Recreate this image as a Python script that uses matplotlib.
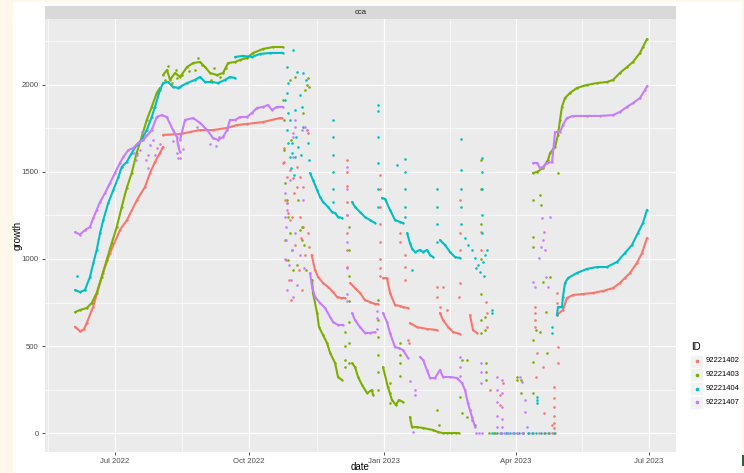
import numpy as np
import matplotlib.pyplot as plt
from matplotlib.patches import Rectangle

plt.rcParams['font.family'] = ['Liberation Sans', 'DejaVu Sans']

ids = ['92221402', '92221403', '92221404', '92221407']
colors = ['#F8766D', '#7CAE00', '#00BFC4', '#C77CFF']

# x = days since 2022-06-01, y = growth
tick_days = [30, 122, 214, 304, 395]
tick_labels = ['Jul 2022', 'Oct 2022', 'Jan 2023', 'Apr 2023', 'Jul 2023']
minor_days = [-15.5, 76, 168, 259, 349.5]
y_ticks = [0, 500, 1000, 1500, 2000]
y_minor = [250, 750, 1250, 1750, 2250]

# ---- 92221402 (red) ----
red_rise = [(3, 611), (6.4, 585), (9, 595), (11, 632), (15.3, 724), (22.1, 920), (26.9, 1034),
            (33.7, 1167), (38.5, 1224), (45.3, 1339), (50.8, 1414), (54.2, 1494), (57.6, 1557),
            (61, 1609), (63.1, 1644)]
red_flat = [(63.1, 1713), (74.7, 1718), (88.4, 1741), (97.2, 1741), (106.8, 1753), (113.6, 1770),
            (120.4, 1776), (131.4, 1787), (143, 1810), (144.4, 1810)]
red_dec1 = [(164.6, 1023), (166.9, 937), (169.0, 897), (172.4, 862), (175.8, 839), (179.2, 810),
            (181.9, 782), (184.6, 776), (187.4, 776)]
red_dec2 = [(190.8, 862), (194.2, 833), (197.6, 805), (201.0, 764), (204.4, 753), (207.8, 741), (209.9, 741)]
red_dec3 = [(213.3, 891), (216.0, 891), (218.1, 805), (221.5, 736), (224.9, 730), (227.0, 724), (230.4, 718)]
red_dec4 = [(231.7, 632), (236.5, 609), (243.3, 598), (250.2, 592)]
red_dec5 = [(252.2, 690), (254.3, 649), (257.8, 609), (261.2, 580), (265.9, 569)]
red_dec6 = [(272.7, 678), (274.8, 592), (277.5, 575)]
red_late = [(332.1, 678), (336.2, 707), (338.9, 776), (343.0, 793), (349.9, 799), (356.7, 805),
            (363.5, 816), (370.4, 833), (375.1, 862), (378.5, 891), (382.0, 920), (386.7, 977),
            (390.2, 1034), (393.6, 1121)]
red_pts = [(145.0, 1552), (145.7, 1557), (147.8, 1471), (146.4, 1339), (148.5, 1264), (149.8, 1224),
           (151.9, 1465), (154.6, 1414), (156.7, 1241), (158.7, 1184), (162.1, 1149), (162.8, 1069),
           (149.8, 1511), (154.6, 1529), (156.7, 1471), (158.7, 1414), (147.8, 1322), (151.2, 1241),
           (161.4, 1741), (162.1, 1724), (147.1, 994), (149.1, 879), (150.5, 764), (153.2, 1080),
           (155.9, 937), (158.0, 822), (160.1, 1023), (146, 1640), (152.5, 1380), (157.5, 1120),
           (188.7, 1569), (188.7, 1500), (188.7, 1420), (188.7, 1330), (188.7, 1250), (188.7, 1150),
           (188.7, 1050), (188.7, 954),
           (211.3, 1480), (211.3, 1400), (211.3, 1300), (211.3, 1200), (211.3, 1100), (211.3, 1000),
           (211.3, 950), (211.3, 900),
           (224.9, 1149), (224.9, 1098), (228.4, 1023), (228.4, 954), (228.4, 879), (230.4, 534), (231.0, 517),
           (250.2, 839), (250.2, 782), (252.2, 724), (254.3, 839), (257.1, 707),
           (266.0, 1339), (266.0, 1149), (266.0, 1052), (266.0, 862), (265.0, 782),
           (280.3, 1155), (280.3, 1052), (283.7, 753), (284.4, 690), (284.4, 609),
           (286.4, 247), (293.2, 218), (293.2, 161), (295.3, 287),
           (317.2, 724), (317.2, 690), (317.2, 650), (317.2, 609), (318.5, 460), (317.8, 322),
           (322.6, 379), (323.3, 115),
           (330.1, 264), (330.1, 200), (330.1, 150), (330.1, 100), (330.1, 60), (330.1, 30),
           (332.1, 805), (332.1, 750), (332.8, 494), (332.8, 402), (328.8, 46),
           (290, 0), (294, 0), (298, 0), (302, 0), (305, 0), (309, 0), (313, 0), (316, 0),
           (320, 0), (323, 0), (326, 0), (329, 0), (331, 0)]

# ---- 92221403 (green) ----
green_rise = [(3.0, 695), (6.4, 707), (11.0, 718), (14.4, 747), (17.8, 805), (21.2, 897), (24.6, 994),
              (28.1, 1092), (31.5, 1184), (34.9, 1299), (38.3, 1408), (41.7, 1494), (45.1, 1609),
              (48.5, 1701), (52.0, 1799), (55.4, 1874), (58.8, 1954), (61.0, 1983)]
green_plat = [(63.1, 2057), (65.8, 2086), (67.9, 2029), (71.3, 2069), (74.7, 2046), (79.5, 2103),
              (83.6, 2126), (88.4, 2132), (91.8, 2103), (95.2, 2069), (100.0, 2057), (104.1, 2069),
              (107.5, 2126), (112.3, 2132), (115.7, 2144), (120.4, 2155), (124.6, 2184), (131.4, 2207),
              (138.2, 2218), (145.0, 2218)]
green_dec1 = [(164.9, 879), (165.5, 805), (168.3, 690), (169.6, 609), (172.4, 563), (175.1, 517),
              (177.2, 460), (180.6, 402), (182.6, 322), (185.3, 305)]
green_dec2 = [(192.2, 402), (194.2, 379), (196.3, 322), (199.0, 276), (202.4, 230), (205.8, 247), (206.5, 218)]
green_dec3 = [(213.3, 379), (216.7, 264), (219.4, 190), (222.1, 161), (224.2, 190), (227.0, 178)]
green_dec4 = [(231.7, 92), (233.1, 34), (236.5, 34), (240.7, 29), (247.5, 17), (250.9, 6), (254, 0),
              (257, 0), (260, 0), (263, 0), (265, 0)]
green_late = [(315.8, 1494), (318.5, 1500), (322.6, 1523), (326.0, 1569), (327.4, 1609), (330.8, 1644),
              (332.8, 1713), (334.2, 1799), (335.5, 1874), (337.6, 1925), (341.0, 1954), (345.8, 1983),
              (352.6, 2000), (359.5, 2011), (366.3, 2017), (370.4, 2029), (375.1, 2069), (379.9, 2103),
              (384.0, 2132), (388.8, 2184), (390.8, 2218), (393.6, 2264)]
green_pts = [(64.5, 2029), (66.5, 2109), (69, 2011), (72.6, 2040), (72, 2086), (84.9, 2086), (87, 2155),
             (95.9, 2029), (97.9, 2098), (76, 2060), (81, 2080), (90, 2115), (102, 2045), (106, 2100),
             (145.0, 1914), (149.8, 2029), (153.2, 2046), (161.4, 2000), (160.1, 1971), (145.7, 1626),
             (146.4, 1437), (147.8, 1339), (148.5, 1241), (149.8, 1149), (151.2, 1052), (151.9, 937),
             (158.0, 1184), (158.0, 1109), (158.7, 1839), (146.4, 1109), (148.5, 994), (155.3, 1339),
             (156.7, 1167), (159.4, 1080), (154.6, 965), (160.8, 937), (145.7, 1799), (150.5, 1684),
             (162, 2040), (163, 1990),
             (187.4, 580), (187.4, 500), (187.4, 420), (187.4, 380),
             (190.1, 1184), (190.1, 1050), (190.1, 900), (190.1, 760), (190.1, 640), (190.1, 520), (190.1, 400),
             (209.9, 764), (209.9, 650), (209.9, 550), (209.9, 450), (209.9, 350), (209.9, 250),
             (224.9, 517), (224.9, 450), (224.9, 400), (224.9, 330), (218, 287), (218, 230), (218, 172),
             (265.9, 207), (267.3, 115), (267.3, 420), (270.7, 92), (270.7, 420), (272.7, 132),
             (274.1, 75), (276.2, 46), (250.2, 132), (251.5, 46),
             (280.3, 1569), (280.3, 1400), (280.3, 1200), (280.3, 1000), (280.3, 800), (280.3, 650),
             (280.3, 575), (283.0, 667), (283.0, 592), (283.7, 402), (283.7, 350), (283.7, 305),
             (286, 0), (289, 0), (305, 322), (305, 305), (307.6, 230), (307.6, 305),
             (315.8, 534), (315.8, 408), (315.8, 230), (315.8, 1126), (315.8, 1069), (315.8, 1339),
             (320.5, 1368), (320.5, 580), (321.3, 1310), (325.3, 460), (324.6, 695), (327.4, 897),
             (322.6, 868), (332.8, 1494), (318, 592)]

# ---- 92221404 (cyan) ----
cyan_rise = [(3.0, 822), (6.4, 810), (9.8, 822), (13.2, 897), (15.5, 977), (17.8, 1052), (20.1, 1149),
             (22.3, 1224), (25.7, 1322), (29.2, 1397), (32.6, 1471), (34.9, 1529), (38.3, 1557),
             (41.7, 1609), (45.1, 1655), (48.5, 1684), (52.0, 1741), (55.4, 1816), (57.6, 1874),
             (61.0, 1971), (63.1, 2011), (66.5, 2017), (69.9, 1989), (73.3, 1983), (74.7, 1989),
             (79.5, 2011), (84.9, 2029), (88.4, 2046), (91.8, 2017), (96.6, 2017), (100.6, 2011),
             (105.4, 2029), (108.8, 2046), (112.3, 2040)]
cyan_top = [(112.3, 2161), (117.7, 2167), (123.8, 2161), (129.3, 2178), (136.1, 2184), (145.0, 2184)]
cyan_dec1 = [(163.5, 1494), (165.5, 1454), (168.3, 1397), (170.3, 1356), (172.4, 1328), (175.8, 1299),
             (178.5, 1270), (180.6, 1264), (182.6, 1241), (185.3, 1236)]
cyan_dec2 = [(192.2, 1328), (194.2, 1299), (197.6, 1270), (201.0, 1241), (204.4, 1224), (207.8, 1207)]
cyan_dec3 = [(212.6, 1351), (214.7, 1345), (218.1, 1282), (221.5, 1224), (224.9, 1213), (227.0, 1207)]
cyan_dec4 = [(229.8, 1149), (231.7, 1092), (233.1, 1060), (235.3, 1040), (238.6, 1052), (240.7, 1040),
             (243.3, 1052), (245.4, 1023), (247.5, 1011)]
cyan_dec5 = [(252.2, 1109), (255.7, 1080), (259.1, 1040), (262.5, 1011), (265.9, 1006)]
cyan_late = [(332.1, 678), (332.8, 724), (335.5, 724), (336.2, 782), (337.6, 862), (339.7, 891),
             (345.8, 920), (352.6, 943), (359.5, 954), (366.3, 954), (373.1, 983), (378.5, 1034),
             (383.3, 1080), (387.4, 1149), (390.8, 1207), (393.6, 1282)]
cyan_pts = [(4.2, 902),
            (147.8, 2103), (151.9, 2201), (154.6, 2075), (148.5, 2011), (147.8, 1954), (149.8, 1799),
            (147.8, 1741), (148.5, 1667), (151.2, 1609), (153.2, 1586), (155.3, 1644), (158.7, 2069),
            (160.8, 2029), (148.5, 1839), (151.2, 1667), (149.8, 1586), (158.0, 1874), (158.7, 1759),
            (162.1, 1667), (162.8, 1569), (146.4, 1914), (156.7, 1943), (153.2, 1856), (150.5, 1520),
            (152.5, 1480), (154, 1700), (157, 1600),
            (179.2, 1799), (179.2, 1700), (179.2, 1600), (179.2, 1500), (179.2, 1400), (179.2, 1330),
            (209.9, 1885), (209.9, 1850), (209.9, 1700), (209.9, 1550), (209.9, 1400), (209.9, 1300),
            (223.1, 1540), (228.4, 1575), (228.4, 1500), (228.4, 1400), (228.4, 1300), (228.4, 1240),
            (233.1, 937), (250.2, 1400), (250.2, 1300), (250.2, 1200), (250.2, 1100),
            (266.6, 1690), (266.6, 1511), (266.6, 1400), (266.6, 1300), (266.6, 1200),
            (269.3, 1121), (271.3, 1080), (274.1, 1052), (276.2, 1006), (278.2, 965), (279.6, 925),
            (281.6, 983), (283.0, 1023), (284.4, 1052), (277, 950), (282, 900),
            (280.9, 1580), (280.9, 1500), (280.9, 1400), (280.9, 1250), (280.9, 1150),
            (287.7, 690), (287.7, 707), (318.5, 207), (318.5, 172), (318.5, 190), (328.8, 609), (328.8, 575),
            (288, 0), (291, 0), (294, 0), (297, 0), (300, 0), (303, 0), (306, 0), (309, 0),
            (312, 0), (315, 0), (318, 0), (321, 0), (324, 0), (327, 0), (330, 0)]

# ---- 92221407 (purple) ----
purple_rise = [(3.0, 1155), (6.4, 1140), (9.8, 1167), (13.2, 1184), (15.5, 1236), (17.8, 1282),
               (20.1, 1328), (23.5, 1379), (26.9, 1437), (30.3, 1494), (33.7, 1552), (36.0, 1586),
               (39.4, 1626), (42.8, 1638), (46.2, 1667), (49.6, 1684), (55.4, 1741), (58.8, 1816),
               (62.2, 1827), (65.6, 1816), (69.9, 1741), (72.6, 1701), (73.3, 1655), (74.7, 1615)]
purple_plat = [(74.7, 1684), (78.1, 1799), (83.6, 1810), (88.4, 1782), (93.2, 1741), (97.2, 1695),
               (100.6, 1684), (104.1, 1701), (106.8, 1741), (108.8, 1799), (112.3, 1799), (115.7, 1816),
               (120.4, 1816), (123.8, 1839), (127.3, 1868), (131.4, 1874), (134.8, 1885), (137.5, 1856),
               (140.9, 1874), (145.0, 1874)]
purple_dec1 = [(163.5, 920), (164.9, 839), (166.9, 782), (170.3, 747), (173.8, 718), (177.2, 667),
               (179.2, 638), (182.6, 621), (186.0, 621)]
purple_dec2 = [(192.2, 690), (194.2, 649), (197.6, 609), (201.0, 575), (204.4, 575), (207.8, 580)]
purple_dec3 = [(213.3, 690), (216.0, 638), (218.1, 575), (221.5, 494), (224.2, 488), (227.0, 477), (230.4, 431)]
purple_dec4 = [(238.6, 437), (240.7, 420), (243.3, 362), (245.4, 316), (248.8, 316), (252.2, 362),
               (254.3, 322), (259.1, 322), (263.8, 316), (267.3, 287), (269.3, 247), (271.3, 172),
               (274.1, 92), (276.2, 34)]
purple_late = [(315.8, 1552), (318.5, 1552), (320.5, 1523), (322.6, 1529), (325.3, 1552), (328.8, 1557),
               (330.8, 1730), (334.2, 1730), (336.2, 1770), (338.9, 1810), (343.0, 1822), (352.6, 1822),
               (361.5, 1822), (370.4, 1827), (375.1, 1845), (379.9, 1874), (384.0, 1896), (388.8, 1925),
               (392.2, 1971), (393.6, 1994)]
purple_pts = [(47.4, 1626), (50.8, 1713), (52.9, 1598), (54.2, 1655), (56.3, 1684), (57.6, 1598),
              (59.0, 1638), (48.5, 1730), (51.5, 1569), (44.4, 1569), (45, 1600), (53, 1520), (43, 1610),
              (61, 1660), (70, 1680), (75, 1580), (77, 1630), (86, 1760), (95, 1660), (99, 1650),
              (101, 1700), (72.6, 1609), (73.3, 1580),
              (153.2, 1759), (158.0, 1741), (160.1, 1759), (161.4, 1741), (151.9, 1701), (151.9, 1586),
              (149.8, 1454), (147.8, 1322), (146.4, 1241), (146.4, 1379), (147.8, 1282), (147.1, 1184),
              (147.1, 1109), (151.2, 1052), (153.2, 1149), (158.7, 1339), (151.9, 1724), (153.2, 1799),
              (149.1, 965), (150.5, 879), (147.8, 822), (156.7, 1023), (159.4, 948), (154.6, 850),
              (146.4, 1000), (152, 780),
              (188.7, 1530), (188.7, 1400), (188.7, 1250), (188.7, 1100), (188.7, 950), (188.7, 800),
              (188.7, 760), (209.2, 700), (209.2, 660), (209.2, 600),
              (235.3, 247), (235.3, 218), (233.8, 6), (232, 300),
              (265.9, 437), (265.9, 380), (265.9, 330), (280.3, 402), (280.3, 350), (280.3, 287),
              (291.1, 322), (291.1, 250), (291.1, 180), (291.1, 100), (291.1, 34),
              (294.6, 305), (294.6, 230), (294.6, 150), (294.6, 80), (294.6, 34),
              (306.9, 322), (308.3, 293), (310.4, 190), (310.4, 121), (311.8, 34),
              (315.8, 868), (317.2, 839), (319.9, 1006), (321.3, 1069), (322.6, 1109), (324.0, 1052),
              (321.9, 1236), (327.4, 1241), (323.3, 1155), (324.6, 897), (326.0, 839),
              (277, 0), (279, 0), (281, 0), (293, 0), (296, 0), (299, 0), (302, 0), (305, 0), (308, 0)]

series = [
    (colors[0], [red_rise, red_flat, red_dec1, red_dec2, red_dec3, red_dec4, red_dec5, red_dec6, red_late], red_pts),
    (colors[1], [green_rise, green_plat, green_dec1, green_dec2, green_dec3, green_dec4, green_late], green_pts),
    (colors[2], [cyan_rise, cyan_top, cyan_dec1, cyan_dec2, cyan_dec3, cyan_dec4, cyan_dec5, cyan_late], cyan_pts),
    (colors[3], [purple_rise, purple_plat, purple_dec1, purple_dec2, purple_dec3, purple_dec4, purple_late], purple_pts),
]

W, H = 744, 473
fig = plt.figure(figsize=(W / 100, H / 100), dpi=100)


def box(x0, y0, x1, y1):
    # pixel box (top-left origin) -> figure fraction
    return [x0 / W, 1 - y1 / H, (x1 - x0) / W, (y1 - y0) / H]


# cream page edges
for x0, y0, x1, y1 in [(0, 0, 13, H), (0, 0, W, 2), (742, 0, W, H)]:
    fig.add_artist(Rectangle((x0 / W, 1 - y1 / H), (x1 - x0) / W, (y1 - y0) / H,
                             transform=fig.transFigure, color='#FFF7EA', lw=0, zorder=-5))
fig.add_artist(Rectangle((742 / W, 1 - 466 / H), 2 / W, 11 / H, transform=fig.transFigure,
                         color='#2E5E3A', lw=0))

ax = fig.add_axes(box(45, 19, 676, 452))
ax.set_facecolor('#EBEBEB')
for s in ax.spines.values():
    s.set_visible(False)

for color, runs, pts in series:
    for run in runs:
        d, v = np.array(run).T
        ax.plot(d, v, color=color, lw=1.5, solid_capstyle='round', solid_joinstyle='round', zorder=3)
        ax.scatter(d, v, s=3, color=color, lw=0, zorder=3)
    d, v = np.array(pts).T
    ax.scatter(d, v, s=3.5, color=color, lw=0, zorder=3)

ax.set_xlim(-17.5, 413.4)
ax.set_ylim(-109, 2379)
ax.set_xticks(tick_days)
ax.set_xticklabels(tick_labels)
ax.set_xticks(minor_days, minor=True)
ax.set_yticks(y_ticks)
ax.set_yticks(y_minor, minor=True)
ax.grid(which='major', color='white', lw=0.9)
ax.grid(which='minor', color='white', lw=0.45)
ax.set_axisbelow(True)
ax.tick_params(which='major', length=2.5, width=0.6, color='#333333', labelsize=5.6,
               labelcolor='#4D4D4D', pad=2)
ax.tick_params(which='minor', length=0)
ax.set_xlabel('date', fontsize=7, color='black')
ax.set_ylabel('growth', fontsize=7, color='black')
ax.xaxis.set_label_coords(0.5, -0.022)
ax.yaxis.set_label_coords(-0.036, 0.5)

# facet strip
sx = fig.add_axes(box(45, 6, 676, 19))
sx.set_facecolor('#D9D9D9')
sx.set_xticks([])
sx.set_yticks([])
for s in sx.spines.values():
    s.set_visible(False)
sx.text(0.5, 0.5, 'cca', ha='center', va='center', fontsize=5.5, color='#1A1A1A', transform=sx.transAxes)

# legend
fig.text(691 / W, 1 - 347 / H, 'ID', fontsize=7, ha='left', va='center')
for i, (name, c) in enumerate(zip(ids, colors)):
    yc = 361 + i * 13.8
    fig.add_artist(Rectangle((690 / W, 1 - (yc + 6.5) / H), 13 / W, 13 / H, transform=fig.transFigure,
                             facecolor='#F2F2F2', edgecolor='white', lw=0.5))
    fig.add_artist(plt.Line2D([696.5 / W], [1 - yc / H], marker='o', ms=1.6, color=c, lw=0,
                              transform=fig.transFigure))
    fig.text(706 / W, 1 - yc / H, name, fontsize=5.5, ha='left', va='center')

fig.savefig('out.png', dpi=100)
